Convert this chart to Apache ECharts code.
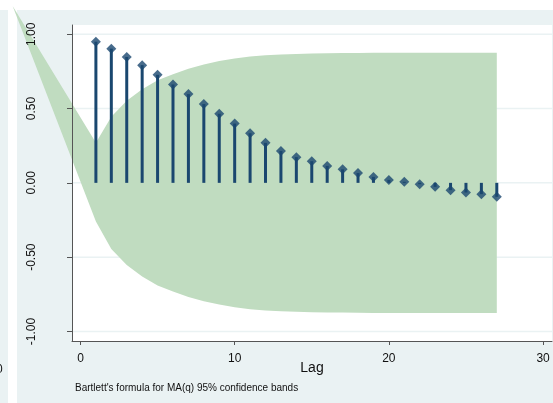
<!DOCTYPE html>
<html>
<head>
<meta charset="utf-8">
<script src="https://cdn.jsdelivr.net/npm/echarts@6/dist/echarts.min.js"></script>
<style>
  html, body { margin: 0; padding: 0; background: #fff; }
  #acplot { width: 553px; height: 403px; }
</style>
</head>
<body>
<div id="acplot"></div>
<script>
// autocorrelations by lag
var lags = [1,2,3,4,5,6,7,8,9,10,11,12,13,14,15,16,17,18,19,20,21,22,23,24,25,26,27];
var acf = [0.950,0.903,0.847,0.792,0.727,0.662,0.597,0.530,0.465,0.399,0.334,0.269,0.215,0.173,0.146,0.114,0.091,0.066,0.040,0.020,0.007,-0.009,-0.027,-0.049,-0.065,-0.076,-0.094];
// Bartlett 95% band
var bandUpper = [0.27,0.445,0.552,0.630,0.690,0.731,0.768,0.797,0.819,0.837,0.850,0.858,0.864,0.867,0.870,0.872,0.873,0.874,0.875,0.875,0.875,0.875,0.875,0.875,0.875,0.875,0.875];
var bandLower = [-0.26,-0.445,-0.552,-0.630,-0.690,-0.731,-0.768,-0.797,-0.819,-0.837,-0.850,-0.858,-0.864,-0.867,-0.870,-0.872,-0.873,-0.874,-0.875,-0.875,-0.875,-0.875,-0.875,-0.875,-0.875,-0.875,-0.875];
var bandApex = [-4.40, 1.189];
var yTicks = [-1, -0.5, 0, 0.5, 1];
var xTicks = [0, 10, 20, 30];
var xMin = -0.55, xMax = 30.58;

var navy = '#1a476f';
var bg = '#eaf2f3';

var myChart = echarts.init(document.getElementById('acplot'));

var stemData = lags.map(function (l, i) { return [l, acf[i]]; });

option = {
  backgroundColor: '#ffffff',
  animation: false,
  textStyle: { fontFamily: 'Liberation Sans, Arial, sans-serif' },
  graphic: [
    { type: 'rect', z: -10, shape: { x: 0, y: 10, width: 8, height: 393 }, style: { fill: bg } },
    { type: 'rect', z: -10, shape: { x: 17, y: 10, width: 536, height: 393 }, style: { fill: bg } },
    { type: 'text', z: -5, left: -4, top: 364, style: { text: '0', fontSize: 12, fill: '#111', fontFamily: 'Liberation Sans' } },
    { type: 'text', left: 75, top: 383, style: { text: "Bartlett's formula for MA(q) 95% confidence bands", fontSize: 10, fill: '#111', fontFamily: 'Liberation Sans' } }
  ],
  grid: {
    left: 72, top: 25, width: 480, height: 316,
    show: true, backgroundColor: '#ffffff', borderWidth: 0
  },
  xAxis: {
    type: 'value',
    z: 5,
    min: xMin, max: xMax,
    name: 'Lag',
    nameLocation: 'middle',
    nameGap: 20,
    nameMoveOverlap: false,
    nameTextStyle: { fontSize: 14, color: '#111' },
    axisLine: { show: true, onZero: false, lineStyle: { color: '#555', width: 1 } },
    axisTick: { show: true, length: 4, customValues: xTicks, lineStyle: { color: '#555' } },
    axisLabel: { customValues: xTicks, fontSize: 12, color: '#111', margin: 12 },
    splitLine: { show: false }
  },
  yAxis: {
    type: 'value',
    z: 5,
    min: -1.064, max: 1.062,
    axisLine: { show: true, onZero: false, lineStyle: { color: '#555', width: 1 } },
    axisTick: { show: true, length: 5, customValues: yTicks, lineStyle: { color: '#555' } },
    axisLabel: {
      customValues: yTicks, fontSize: 12, color: '#111', rotate: 90, margin: 34,
      formatter: function (v) { return v.toFixed(2); }
    },
    splitLine: { show: false }
  },
  series: [
    {
      // horizontal grid lines, under the band
      type: 'custom',
      z: 1,
      silent: true,
      data: yTicks,
      renderItem: function (params, api) {
        var a = api.coord([xMin, api.value(0)]);
        var b = api.coord([xMax, api.value(0)]);
        return { type: 'line', shape: { x1: a[0] + 1, y1: a[1], x2: b[0], y2: b[1] }, style: { stroke: bg, lineWidth: 1.5 } };
      }
    },
    {
      type: 'custom',
      z: 2,
      silent: true,
      data: [0],
      renderItem: function (params, api) {
        var pts = [api.coord(bandApex)];
        for (var i = 0; i < lags.length; i++) pts.push(api.coord([lags[i], bandUpper[i]]));
        for (var j = lags.length - 1; j >= 0; j--) pts.push(api.coord([lags[j], bandLower[j]]));
        return { type: 'polygon', shape: { points: pts }, style: { fill: '#c0dcc0' } };
      }
    },
    {
      type: 'custom',
      z: 3,
      silent: true,
      data: stemData,
      renderItem: function (params, api) {
        var p0 = api.coord([api.value(0), 0]);
        var p1 = api.coord([api.value(0), api.value(1)]);
        return { type: 'line', shape: { x1: p0[0], y1: p0[1], x2: p1[0], y2: p1[1] }, style: { stroke: navy, lineWidth: 3 } };
      }
    },
    {
      type: 'scatter',
      z: 4,
      silent: true,
      symbol: 'diamond',
      symbolSize: 10,
      itemStyle: { color: navy },
      data: stemData
    }
  ]
};
myChart.setOption(option);
window.addEventListener('resize', function () {
  myChart.resize();
});
</script>
</body>
</html>
